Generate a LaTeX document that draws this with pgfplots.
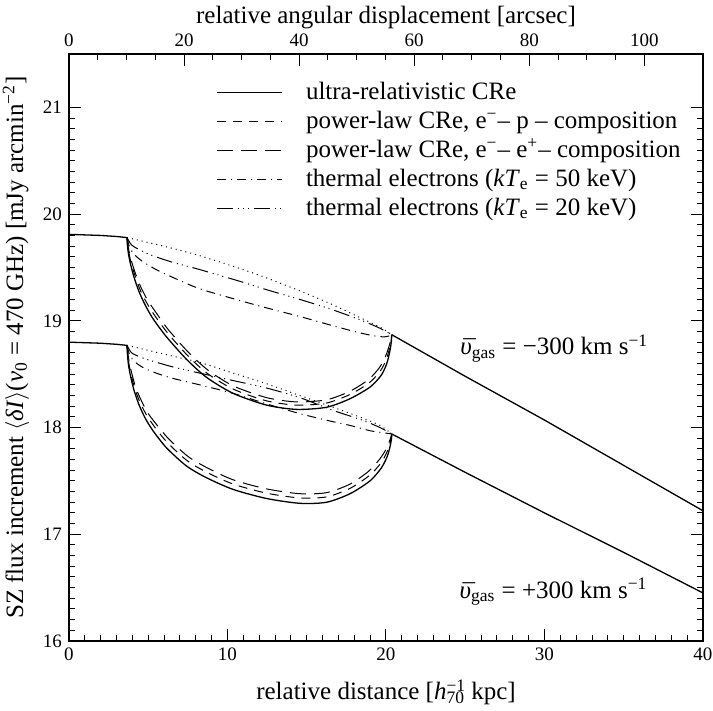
\documentclass[border=0pt]{standalone}
\usepackage{fontspec}
\setmainfont{Liberation Serif}
\usepackage{pgfplots}
\pgfplotsset{compat=1.18}
\newcommand{\vbar}{\leavevmode\rlap{\hspace{0.12em}\raisebox{-0.25ex}{¯}}\textit{υ}}
\begin{document}
\begin{tikzpicture}
\pgfplotsset{
  common/.style={
    scale only axis, width=317pt, height=293.5pt,
    tick align=inside,
    major tick length=6pt, minor tick length=3pt,
    every tick/.style={black, line width=0.5pt},
    axis line style={line width=0.6pt},
    tick label style={font=\fontsize{9.5}{11}\selectfont},
    label style={font=\fontsize{12.5}{14}\selectfont},
    /pgf/number format/assume math mode=true,
  }
}
\begin{axis}[common,
  name=main,
  xmin=0, xmax=40, ymin=16, ymax=21.5,
  xtick={0,10,20,30,40}, minor x tick num=9,
  ytick={16,17,18,19,20,21}, minor y tick num=9,
  xtick pos=bottom, ytick pos=both, yticklabel pos=left,
  xlabel={relative distance [\textit{h}\rlap{\textsuperscript{−1}}\textsubscript{70} kpc]},
  xlabel style={yshift=-2.5pt},
  ylabel={SZ flux increment $\langle$\textit{δI}$\rangle$(\textit{ν}\textsubscript{0} = 470 GHz) [mJy arcmin\textsuperscript{−2}]},
  legend style={draw=none, fill=none, at={(axis cs:9.32,21.255)}, anchor=north west,
    inner sep=0pt, outer sep=0pt, row sep=2.0pt, column sep=11.5pt,
    font=\fontsize{12.5}{14}\selectfont,
    nodes={inner sep=0pt, text height=9.5pt, text depth=3pt}},
  legend cell align=left,
  legend image code/.code={\draw[#1] (0pt,0pt) -- (32.5pt,0pt);},
  every axis plot/.append style={line width=0.5pt},
]
% ---- upper group (v = -300 km/s) ----
\addplot[black, line width=0.65pt, smooth, tension=0.45] coordinates {
(3.66,19.78) (3.69,19.70) (3.76,19.62) (3.90,19.52) (4.10,19.41) (4.40,19.28)
(4.80,19.15) (5.30,19.02) (6.15,18.85) (7.41,18.64) (8.68,18.47) (10.36,18.32)
(12.47,18.21) (14.36,18.17) (16.25,18.19) (17.73,18.27) (19.00,18.38) (19.70,18.49)
(20.05,18.60) (20.25,18.72) (20.34,18.81) (20.36,18.87)};
\addlegendentry{ultra-relativistic CRe}
\addplot[black, dash pattern=on 4.5pt off 3.5pt, smooth, tension=0.45] coordinates {
(3.66,19.78) (3.71,19.70) (3.79,19.63) (3.94,19.53) (4.15,19.43) (4.46,19.30)
(4.86,19.18) (5.36,19.06) (6.2,18.89) (7.45,18.68) (8.7,18.51) (10.36,18.36)
(12.47,18.25) (14.36,18.21) (16.25,18.23) (17.73,18.31) (18.95,18.42) (19.64,18.53)
(20.0,18.63) (20.22,18.74) (20.33,18.82) (20.36,18.87)};
\addlegendentry{power-law CRe, e\textsuperscript{−}– p – composition}
\addplot[black, dash pattern=on 8pt off 4pt, smooth, tension=0.45] coordinates {
(3.66,19.78) (3.73,19.70) (3.82,19.63) (3.98,19.54) (4.20,19.44) (4.52,19.32)
(4.93,19.20) (5.43,19.09) (6.25,18.92) (7.5,18.71) (8.75,18.54) (10.36,18.39)
(12.47,18.28) (14.36,18.24) (16.25,18.26) (17.73,18.34) (18.9,18.45) (19.58,18.56)
(19.95,18.66) (20.19,18.76) (20.32,18.83) (20.36,18.87)};
\addlegendentry{power-law CRe, e\textsuperscript{−}– e\textsuperscript{+}– composition}
\addplot[black, dash pattern=on 4.5pt off 2.5pt on 0.5pt off 2.5pt, smooth, tension=0.45] coordinates {
(3.66,19.78) (3.85,19.68) (4.2,19.61) (4.7,19.55) (5.5,19.48) (6.5,19.41) (8.25,19.30)
(10.78,19.19) (12.5,19.12) (14.57,19.04) (16.5,18.96) (18.0,18.90) (19.2,18.86)
(19.9,18.85) (20.36,18.865)};
\addlegendentry{thermal electrons (\textit{kT}\textsubscript{e} = 50 keV)}
\addplot[black, dash pattern=on 8pt off 2.5pt on 0.5pt off 2pt on 0.5pt off 2pt on 0.5pt off 2.5pt, smooth, tension=0.45] coordinates {
(3.66,19.78) (3.95,19.71) (4.4,19.67) (5.1,19.62) (6.5,19.55) (8.25,19.48)
(10.78,19.37) (12.5,19.29) (14.57,19.20) (16.5,19.11) (18.36,19.01) (19.62,18.93) (20.36,18.87)};
\addlegendentry{thermal electrons (\textit{kT}\textsubscript{e} = 20 keV)}
\addplot[black, dash pattern=on 0.5pt off 2pt, smooth, tension=0.45, forget plot] coordinates {
(3.66,19.78) (5.1,19.73) (6.5,19.68) (8.25,19.61) (10.78,19.49) (12.5,19.40)
(14.57,19.28) (16.5,19.16) (18.36,19.03) (19.62,18.94) (20.36,18.87)};
\addplot[black, line width=0.65pt, forget plot] coordinates {
(0,19.81) (1,19.805) (2,19.80) (3,19.79) (3.66,19.78)};
\addplot[black, line width=0.65pt, forget plot] coordinates {
(20.36,18.87) (25,18.48) (30,18.07) (35,17.645) (40,17.22)};
% ---- lower group (v = +300 km/s) ----
\addplot[black, line width=0.65pt, forget plot] coordinates {
(0,18.80) (1,18.795) (2,18.79) (3,18.78) (3.66,18.77)};
\addplot[black, line width=0.65pt, forget plot] coordinates {
(20.36,17.94) (25,17.58) (30,17.20) (35,16.83) (40,16.45)};
\addplot[black, line width=0.65pt, smooth, tension=0.45, forget plot] coordinates {
(3.66,18.77) (3.69,18.68) (3.76,18.58) (3.90,18.47) (4.10,18.35) (4.40,18.22)
(4.80,18.09) (5.30,17.97) (6.15,17.81) (7.41,17.64) (8.67,17.53) (10.36,17.42)
(12.47,17.335) (14.57,17.29) (16.25,17.30) (17.73,17.38) (18.99,17.50) (19.7,17.62)
(20.08,17.73) (20.27,17.83) (20.35,17.90) (20.36,17.94)};
\addplot[black, dash pattern=on 4.5pt off 3.5pt, smooth, tension=0.45, forget plot] coordinates {
(3.66,18.77) (3.71,18.68) (3.79,18.59) (3.94,18.48) (4.16,18.36) (4.47,18.24)
(4.88,18.12) (5.38,18.01) (6.2,17.86) (7.45,17.69) (8.7,17.58) (10.36,17.47)
(12.47,17.385) (14.57,17.34) (16.25,17.35) (17.73,17.43) (18.95,17.55) (19.64,17.66)
(20.03,17.76) (20.24,17.85) (20.34,17.91) (20.36,17.94)};
\addplot[black, dash pattern=on 8pt off 4pt, smooth, tension=0.45, forget plot] coordinates {
(3.66,18.77) (3.73,18.68) (3.83,18.59) (3.99,18.49) (4.22,18.37) (4.54,18.26)
(4.96,18.14) (5.46,18.04) (6.25,17.90) (7.5,17.73) (8.75,17.62) (10.36,17.51)
(12.47,17.425) (14.57,17.38) (16.25,17.39) (17.73,17.47) (18.9,17.59) (19.58,17.70)
(19.98,17.79) (20.21,17.87) (20.33,17.92) (20.36,17.94)};
\addplot[black, dash pattern=on 4.5pt off 2.5pt on 0.5pt off 2.5pt, smooth, tension=0.45, forget plot] coordinates {
(3.66,18.77) (3.85,18.67) (4.2,18.61) (4.7,18.56) (5.5,18.51) (6.57,18.46) (8.25,18.40)
(10.36,18.32) (12.5,18.22) (14.57,18.13) (16.5,18.06) (17.73,18.02) (19.0,17.97)
(19.9,17.95) (20.36,17.94)};
\addplot[black, dash pattern=on 8pt off 2.5pt on 0.5pt off 2pt on 0.5pt off 2pt on 0.5pt off 2.5pt, smooth, tension=0.45, forget plot] coordinates {
(3.66,18.77) (3.95,18.70) (4.5,18.66) (5.1,18.63) (6.5,18.57) (8.25,18.51)
(10.36,18.44) (12.47,18.37) (14.57,18.28) (16.67,18.16) (18.5,18.07) (19.62,18.00) (20.36,17.94)};
\addplot[black, dash pattern=on 0.5pt off 2pt, smooth, tension=0.45, forget plot] coordinates {
(3.66,18.77) (5.1,18.72) (6.5,18.67) (8.25,18.61) (10.36,18.51) (12.47,18.41)
(14.57,18.30) (16.67,18.19) (18.5,18.09) (19.62,18.02) (20.36,17.94)};
\node[anchor=base west, font=\fontsize{12.5}{14}\selectfont] at (axis cs:24.25,18.68)
  {\vbar\textsubscript{gas} = −300 km s\textsuperscript{−1}};
\node[anchor=base west, font=\fontsize{12.5}{14}\selectfont] at (axis cs:24.2,16.40)
  {\vbar\textsubscript{gas} = +300 km s\textsuperscript{−1}};
\end{axis}
\begin{axis}[common,
  xmin=0, xmax=110.2, ymin=0, ymax=1,
  hide y axis,
  xtick={0,20,40,60,80,100}, minor x tick num=3,
  xtick pos=upper, xticklabel pos=upper,
  xlabel={relative angular displacement [arcsec]},
  xlabel style={yshift=-4.5pt},
]
\end{axis}
\pgfresetboundingbox
\path ([shift={(-34.5pt,-35pt)}]main.south west) rectangle ([shift={(5pt,27pt)}]main.north east);
\end{tikzpicture}
\end{document}
